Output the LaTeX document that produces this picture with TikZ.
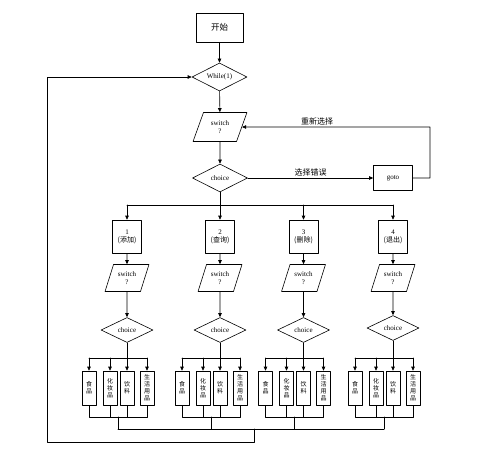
\documentclass[tikz,border=0pt]{standalone}
\usepackage{fontspec}
\setmainfont{Liberation Serif}
\newfontfamily\cjk{Noto Sans CJK SC}
\usetikzlibrary{arrows.meta}
\usetikzlibrary{shapes}

\begin{document}
\begin{tikzpicture}[x=1pt, y=-1pt, line cap=round, line join=round, line width=0.6pt,
  >={Triangle[length=4pt,width=3.5pt]},
  every node/.style={font=\fontsize{7}{8}\selectfont},
  box/.style={draw, minimum width=47pt, minimum height=29pt, inner sep=0pt},
  dia/.style={draw, diamond, aspect=2, inner sep=0pt, minimum width=55pt, minimum height=28pt},
  para/.style={draw, trapezium, trapezium left angle=66, trapezium right angle=114, trapezium stretches=true,
    align=center, inner sep=0pt, minimum width=54pt, minimum height=29pt},
  lowpara/.style={para, minimum width=44pt, minimum height=27pt},
  lowdia/.style={dia, minimum width=52pt, minimum height=25pt},
  numbox/.style={draw, align=center, inner sep=0pt, minimum width=29pt, minimum height=33pt},
  item/.style={draw, align=center, inner sep=0pt, minimum width=14pt, minimum height=34pt,
    font=\cjk\fontsize{6}{7}\selectfont},
  lbl/.style={font=\cjk\fontsize{8}{9}\selectfont, inner sep=1.5pt}]

\useasboundingbox (0,0) rectangle (478,457);

\node[box, font=\cjk\fontsize{8.5}{9}\selectfont] (start) at (219.5,27.5) {开始};
\node[dia] (while) at (219.5,77) {While(1)};
\node[para] (sw) at (220,127) {switch\\?};
\node[dia] (ch) at (220,178) {choice};
\node[draw, minimum width=39pt, minimum height=25pt, inner sep=0pt] (goto) at (393,178) {goto};

\draw[->] (start) -- (while);
\draw[->] (while) -- (sw);
\draw[->] (sw) -- (ch);
\draw[->] (ch) -- node[above, lbl] {选择错误} (goto);
\coordinate (back) at (430,127);
\draw[->] (goto.east) -| (back) -- node[above, lbl, pos=0.6] {重新选择} (sw.east);

\coordinate (fork) at (220,205);
\coordinate (big) at (254,429);
\coordinate (ret) at (47,442);

%---------------------------------------------------------------------------------------------------
\begin{scope}[shift={(127,0)}]
\node[numbox] (n1) at (0,236.5) {1\\{\cjk (添加)}};
\node[lowpara] (s1) at (0,278) {switch\\?};
\node[lowdia] (c1) at (0,330) {choice};
\node[item] (f1) at (-38,388) {食\\品};
\node[item] (m1) at (-17,388) {化\\妆\\品};
\node[item] (d1) at (0,388) {饮\\料};
\node[item] (l1) at (20,388) {生\\活\\用\\品};
\coordinate (t1) at (0,358);
\coordinate (b1) at (-9,417);
\draw[->] (n1) -- (s1);
\draw[->] (s1) -- (c1);
\draw (c1) -- (t1);
\draw (t1 -| f1) -- (t1 -| l1);
\draw[->] (t1 -| f1) -- (f1);
\draw[->] (t1 -| m1) -- (m1);
\draw[->] (t1 -| d1) -- (d1);
\draw[->] (t1 -| l1) -- (l1);
\draw (f1) |- (b1 -| l1) -- (l1);
\draw (m1) -- (m1 |- b1);
\draw (d1) -- (d1 |- b1);
\draw (b1) -- (b1 |- big);
\end{scope}

%---------------------------------------------------------------------------------------------------
\begin{scope}[shift={(220,0)}]
\node[numbox] (n2) at (0,236.5) {2\\{\cjk (查询)}};
\node[lowpara] (s2) at (0,278) {switch\\?};
\node[lowdia] (c2) at (0,330) {choice};
\node[item] (f2) at (-38,388) {食\\品};
\node[item] (m2) at (-17,388) {化\\妆\\品};
\node[item] (d2) at (0,388) {饮\\料};
\node[item] (l2) at (20,388) {生\\活\\用\\品};
\coordinate (t2) at (0,358);
\coordinate (b2) at (-9,417);
\draw[->] (n2) -- (s2);
\draw[->] (s2) -- (c2);
\draw (c2) -- (t2);
\draw (t2 -| f2) -- (t2 -| l2);
\draw[->] (t2 -| f2) -- (f2);
\draw[->] (t2 -| m2) -- (m2);
\draw[->] (t2 -| d2) -- (d2);
\draw[->] (t2 -| l2) -- (l2);
\draw (f2) |- (b2 -| l2) -- (l2);
\draw (m2) -- (m2 |- b2);
\draw (d2) -- (d2 |- b2);
\draw (b2) -- (b2 |- big);
\end{scope}

%---------------------------------------------------------------------------------------------------
\begin{scope}[shift={(303.5,0)}]
\node[numbox] (n3) at (0,236.5) {3\\{\cjk (删除)}};
\node[lowpara] (s3) at (0,278) {switch\\?};
\node[lowdia] (c3) at (0,330) {choice};
\node[item] (f3) at (-38,388) {食\\品};
\node[item] (m3) at (-17,388) {化\\妆\\品};
\node[item] (d3) at (0,388) {饮\\料};
\node[item] (l3) at (20,388) {生\\活\\用\\品};
\coordinate (t3) at (0,358);
\coordinate (b3) at (-9,417);
\draw[->] (n3) -- (s3);
\draw[->] (s3) -- (c3);
\draw (c3) -- (t3);
\draw (t3 -| f3) -- (t3 -| l3);
\draw[->] (t3 -| f3) -- (f3);
\draw[->] (t3 -| m3) -- (m3);
\draw[->] (t3 -| d3) -- (d3);
\draw[->] (t3 -| l3) -- (l3);
\draw (f3) |- (b3 -| l3) -- (l3);
\draw (m3) -- (m3 |- b3);
\draw (d3) -- (d3 |- b3);
\draw (b3) -- (b3 |- big);
\end{scope}

%---------------------------------------------------------------------------------------------------
\begin{scope}[shift={(393,0)}]
\node[numbox] (n4) at (0,236.5) {4\\{\cjk (退出)}};
\node[lowpara] (s4) at (0,278) {switch\\?};
\node[lowdia] (c4) at (0,328) {choice};
\node[item] (f4) at (-38,388) {食\\品};
\node[item] (m4) at (-17,388) {化\\妆\\品};
\node[item] (d4) at (0,388) {饮\\料};
\node[item] (l4) at (20,388) {生\\活\\用\\品};
\coordinate (t4) at (0,358);
\coordinate (b4) at (-9,417);
\draw[->] (n4) -- (s4);
\draw[->] (s4) -- (c4);
\draw (c4) -- (t4);
\draw (t4 -| f4) -- (t4 -| l4);
\draw[->] (t4 -| f4) -- (f4);
\draw[->] (t4 -| m4) -- (m4);
\draw[->] (t4 -| d4) -- (d4);
\draw[->] (t4 -| l4) -- (l4);
\draw (f4) |- (b4 -| l4) -- (l4);
\draw (m4) -- (m4 |- b4);
\draw (d4) -- (d4 |- b4);
\draw (b4) -- (b4 |- big);
\end{scope}

%---------------------------------------------------------------------------------------------------
\draw (ch) -- (fork);
\draw (fork -| n1) -- (fork -| n4);
\draw[->] (fork -| n1) -- (n1);
\draw[->] (fork -| n2) -- (n2);
\draw[->] (fork -| n3) -- (n3);
\draw[->] (fork -| n4) -- (n4);

\draw (b1 |- big) -- (b4 |- big);
\draw[->] (big) |- (ret) |- (while);

\end{tikzpicture}
\end{document}
